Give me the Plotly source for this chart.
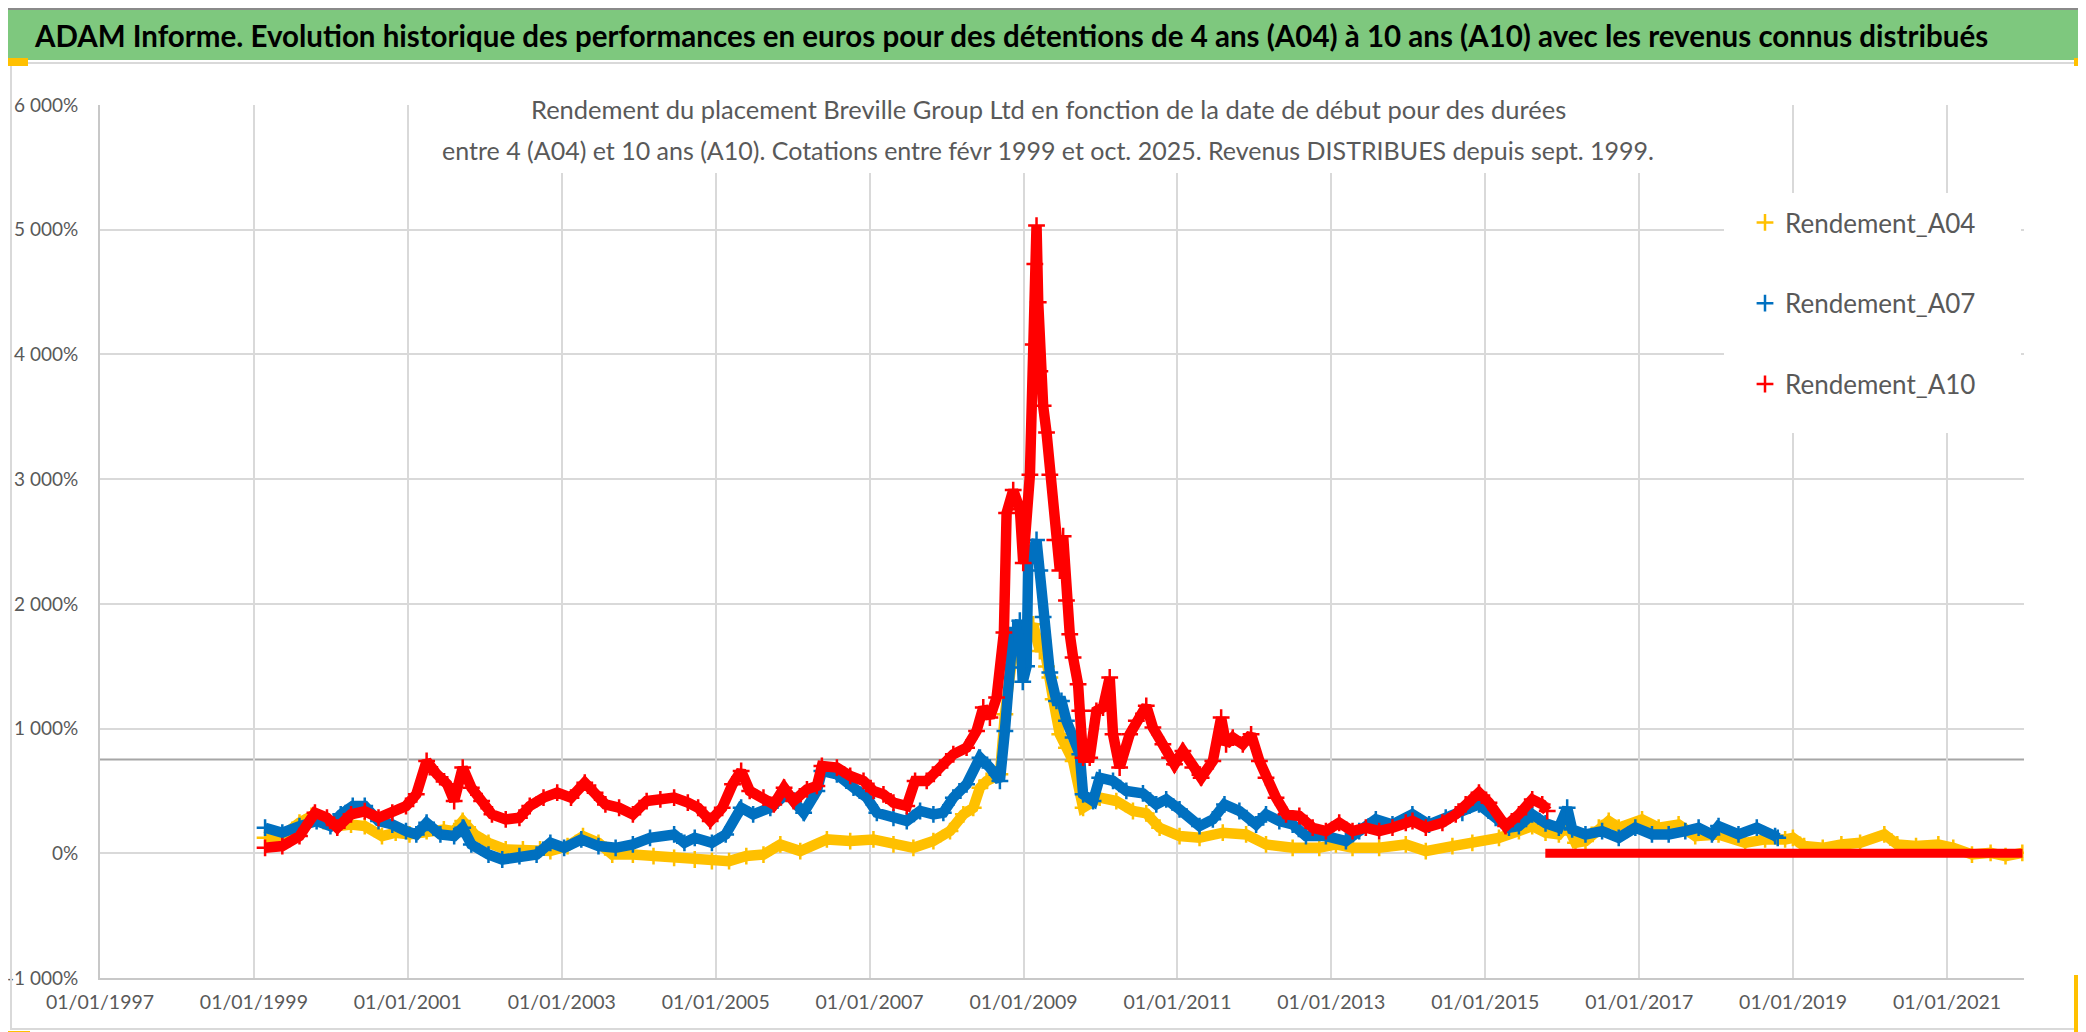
import plotly.graph_objects as go

# ---------------- DATA ----------------
annees_a04 = [1999.145, 1999.369, 1999.592, 1999.748, 1999.904, 2000.083, 2000.262, 2000.440, 2000.664, 2000.842,
              2001.021, 2001.244, 2001.468, 2001.602, 2001.713, 2001.870, 2002.048, 2002.272, 2002.495, 2002.718,
              2002.852, 2003.075, 2003.276, 2003.477, 2003.656, 2003.924, 2004.192, 2004.460, 2004.728, 2004.951,
              2005.174, 2005.398, 2005.621, 2005.840, 2006.099, 2006.445, 2006.748, 2007.050, 2007.310, 2007.569,
              2007.829, 2008.045, 2008.218, 2008.347, 2008.434, 2008.520, 2008.693, 2008.758, 2008.866, 2008.952,
              2009.126, 2009.212, 2009.255, 2009.299, 2009.342, 2009.385, 2009.471, 2009.558, 2009.644, 2009.774,
              2009.990, 2010.206, 2010.422, 2010.595, 2010.768, 2011.027, 2011.287, 2011.589, 2011.892, 2012.151,
              2012.497, 2012.843, 2013.059, 2013.275, 2013.621, 2013.967, 2014.227, 2014.573, 2014.832, 2015.178,
              2015.437, 2015.610, 2015.783, 2015.956, 2016.064, 2016.172, 2016.302, 2016.475, 2016.604, 2016.734,
              2017.037, 2017.253, 2017.512, 2017.728, 2018.031, 2018.377, 2018.636, 2018.896, 2018.997, 2019.143,
              2019.385, 2019.627, 2019.870, 2020.185, 2020.354, 2020.597, 2020.887, 2021.081, 2021.324, 2021.566,
              2021.760, 2021.978]
rendement_a04 = [124, 138, 245, 299, 259, 218, 231, 218, 138, 165,
                 151, 178, 191, 178, 259, 151, 84, 31, 31, 31,
                 18, 58, 138, 84, -10, -10, -22, -36, -50, -63,
                 -63, -22, -10, 71, 18, 111, 98, 111, 71, 44,
                 98, 178, 312, 365, 526, 580, 633, 1115, 1624, 1677,
                 1836, 1621, 1704, 1498, 1410, 1236, 954, 847, 740, 365,
                 446, 419, 339, 320, 205, 138, 124, 165, 151, 71,
                 44, 44, 71, 44, 44, 71, 18, 58, 84, 124,
                 178, 218, 165, 151, 231, 84, 98, 205, 259, 205,
                 272, 205, 231, 138, 151, 84, 111, 111, 124, 58,
                 44, 71, 84, 151, 71, 58, 71, 44, -10, 4,
                 -22, 4]

annees_a07 = [1999.145, 1999.369, 1999.592, 1999.815, 1999.994, 2000.128, 2000.284, 2000.440, 2000.619, 2000.798,
              2000.976, 2001.110, 2001.244, 2001.423, 2001.602, 2001.713, 2001.825, 2002.048, 2002.227, 2002.450,
              2002.673, 2002.852, 2003.031, 2003.254, 2003.477, 2003.700, 2003.924, 2004.147, 2004.460, 2004.594,
              2004.728, 2004.951, 2005.130, 2005.331, 2005.487, 2005.710, 2005.926, 2006.143, 2006.315, 2006.380,
              2006.575, 2006.791, 2006.964, 2007.094, 2007.310, 2007.483, 2007.656, 2007.829, 2007.958, 2008.088,
              2008.260, 2008.434, 2008.563, 2008.693, 2008.758, 2008.823, 2008.866, 2008.888, 2008.952, 2008.990,
              2009.040, 2009.061, 2009.169, 2009.212, 2009.255, 2009.342, 2009.428, 2009.493, 2009.558, 2009.644,
              2009.731, 2009.774, 2009.904, 2009.990, 2010.163, 2010.336, 2010.552, 2010.725, 2010.854, 2011.027,
              2011.287, 2011.460, 2011.611, 2011.805, 2012.022, 2012.151, 2012.324, 2012.497, 2012.670, 2012.929,
              2013.189, 2013.362, 2013.578, 2013.794, 2014.053, 2014.270, 2014.486, 2014.702, 2014.918, 2015.135,
              2015.308, 2015.437, 2015.610, 2015.783, 2015.956, 2016.064, 2016.129, 2016.302, 2016.518, 2016.734,
              2016.950, 2017.166, 2017.383, 2017.599, 2017.772, 2017.945, 2018.031, 2018.290, 2018.528, 2018.766,
              2018.800]
rendement_a07 = [205, 165, 218, 259, 218, 312, 379, 379, 259, 231,
                 178, 151, 245, 151, 138, 205, 71, -10, -50, -22,
                 -10, 84, 44, 111, 58, 44, 71, 124, 151, 84,
                 124, 84, 151, 365, 312, 365, 480, 325, 500, 660,
                 633, 526, 446, 325, 285, 259, 339, 312, 325, 446,
                 553, 767, 687, 580, 981, 1490, 1806, 1757, 1865, 1375,
                 1500, 2328, 2512, 2267, 1895, 1450, 1222, 1222, 1062, 928,
                 794, 473, 419, 606, 580, 500, 480, 392, 432, 352,
                 218, 272, 392, 339, 231, 312, 259, 231, 138, 138,
                 98, 178, 272, 231, 312, 231, 285, 325, 392, 285,
                 205, 218, 312, 240, 205, 365, 191, 151, 178, 124,
                 205, 151, 151, 178, 205, 151, 218, 151, 205, 138,
                 124]

annees_a10 = [1999.145, 1999.369, 1999.592, 1999.793, 1999.949, 2000.083, 2000.262, 2000.440, 2000.619, 2000.798,
              2000.976, 2001.110, 2001.244, 2001.378, 2001.512, 2001.602, 2001.713, 2001.825, 2001.959, 2002.093,
              2002.272, 2002.450, 2002.584, 2002.763, 2002.941, 2003.120, 2003.299, 2003.433, 2003.567, 2003.745,
              2003.924, 2004.103, 2004.281, 2004.460, 2004.638, 2004.772, 2004.929, 2005.085, 2005.219, 2005.331,
              2005.442, 2005.621, 2005.755, 2005.889, 2006.013, 2006.186, 2006.315, 2006.380, 2006.575, 2006.748,
              2006.921, 2007.050, 2007.180, 2007.310, 2007.483, 2007.591, 2007.742, 2007.915, 2008.088, 2008.260,
              2008.390, 2008.477, 2008.563, 2008.650, 2008.745, 2008.780, 2008.866, 2008.953, 2008.996, 2009.083,
              2009.126, 2009.147, 2009.169, 2009.191, 2009.212, 2009.255, 2009.299, 2009.342, 2009.407, 2009.472,
              2009.515, 2009.558, 2009.601, 2009.644, 2009.709, 2009.731, 2009.774, 2009.860, 2009.947, 2010.033,
              2010.120, 2010.163, 2010.249, 2010.379, 2010.466, 2010.595, 2010.681, 2010.811, 2010.898, 2010.962,
              2011.071, 2011.200, 2011.308, 2011.460, 2011.568, 2011.632, 2011.719, 2011.849, 2011.957, 2012.065,
              2012.151, 2012.281, 2012.411, 2012.584, 2012.757, 2012.929, 2013.102, 2013.275, 2013.448, 2013.621,
              2013.794, 2013.967, 2014.054, 2014.227, 2014.443, 2014.616, 2014.745, 2014.918, 2015.048, 2015.264,
              2015.437, 2015.610, 2015.740, 2015.805]
rendement_a10 = [44, 58, 138, 325, 285, 205, 312, 337, 285, 325,
                 379, 473, 740, 633, 553, 419, 687, 526, 419, 312,
                 272, 285, 379, 446, 486, 446, 566, 486, 392, 365,
                 312, 419, 432, 446, 406, 365, 259, 365, 553, 660,
                 500, 446, 392, 526, 419, 513, 540, 700, 687, 620,
                 580, 500, 473, 406, 379, 580, 580, 687, 794, 847,
                 981, 1169, 1088, 1249, 1771, 2728, 2912, 2759, 2328, 3035,
                 4080, 4725, 5033, 4418, 3865, 3588, 3373, 3035, 2512, 2267,
                 2543, 2026, 1757, 1570, 1356, 1142, 767, 767, 1142, 1169,
                 1410, 954, 687, 954, 1062, 1182, 1008, 874, 767, 713,
                 821, 687, 606, 740, 1088, 874, 928, 874, 954, 740,
                 606, 446, 312, 299, 205, 178, 245, 178, 205, 178,
                 205, 245, 259, 205, 245, 312, 392, 486, 406, 218,
                 312, 432, 392, 339]
# A10 values shown as 0 % after the end of the available 10-year windows
annees_a10_nul = [2015.78, 2016.25, 2016.75, 2017.25, 2017.75, 2018.25, 2018.75, 2019.25, 2019.75,
                  2020.25, 2020.75, 2021.25, 2021.75, 2021.98]
rendement_a10_nul = [0, 0, 0, 0, 0, 0, 0, 0, 0, 0, 0, 0, 0, 0]

niveau_reference = 753

noms_series = ["Rendement_A04", "Rendement_A07", "Rendement_A10"]
couleurs = ["#FFC000", "#0070C0", "#FF0000"]

y_ticks = [-1000, 0, 1000, 2000, 3000, 4000, 5000, 6000]
y_tick_labels = ["-1 000%", "0%", "1 000%", "2 000%", "3 000%", "4 000%", "5 000%", "6 000%"]
x_ticks = [1997, 1999, 2001, 2003, 2005, 2007, 2009, 2011, 2013, 2015, 2017, 2019, 2021]
x_tick_labels = ["01/01/1997", "01/01/1999", "01/01/2001", "01/01/2003", "01/01/2005", "01/01/2007",
                 "01/01/2009", "01/01/2011", "01/01/2013", "01/01/2015", "01/01/2017", "01/01/2019",
                 "01/01/2021"]

titre = ("ADAM Informe. Evolution historique des performances en euros pour des détentions "
         "de 4 ans (A04) à 10 ans (A10) avec les revenus connus distribués")
sous_titre_1 = "Rendement du placement Breville Group Ltd en fonction de la date de début pour des durées"
sous_titre_2 = ("entre 4 (A04) et 10 ans (A10). Cotations entre févr 1999 et oct. 2025. "
                "Revenus DISTRIBUES depuis sept. 1999.")

# ---------------- LAYOUT HELPERS ----------------
W, H = 2086, 1032
ML, MR, MT, MB = 92, 70, 97, 62
PW, PH = W - ML - MR, H - MT - MB
FONT = "Lato, sans-serif"
GRIS = "#595959"


def px_x(p):
    return (p - ML) / PW


def px_y(p):
    return (H - MB - p) / PH


fig = go.Figure()

series = [
    (annees_a04, rendement_a04),
    (annees_a07, rendement_a07),
    (annees_a10, rendement_a10),
]
for i, (xs, ys) in enumerate(series):
    fig.add_trace(go.Scatter(x=xs, y=ys, mode="lines", line=dict(color=couleurs[i], width=10.5),
                             showlegend=False, legendgroup=noms_series[i], hoverinfo="skip"))
    if i == 2:
        fig.add_trace(go.Scatter(x=annees_a10_nul, y=rendement_a10_nul, mode="lines",
                                 line=dict(color=couleurs[i], width=9),
                                 showlegend=False, legendgroup=noms_series[i], hoverinfo="skip"))
    fig.add_trace(go.Scatter(x=xs, y=ys, mode="markers", name=noms_series[i], legendgroup=noms_series[i],
                             marker=dict(symbol="cross-thin", size=12, color=couleurs[i],
                                         line=dict(color=couleurs[i], width=2.5))))

shapes = []
# reference line
shapes.append(dict(type="line", xref="paper", yref="y", x0=0, x1=1, y0=niveau_reference, y1=niveau_reference,
                   line=dict(color="#A6A6A6", width=2), layer="between"))
# title bar
shapes.append(dict(type="rect", xref="paper", yref="paper", x0=px_x(0), x1=px_x(W), y0=px_y(52), y1=px_y(0),
                   fillcolor="#7EC87E", line=dict(width=0), layer="above"))
shapes.append(dict(type="rect", xref="paper", yref="paper", x0=px_x(0), x1=px_x(W), y0=px_y(2), y1=px_y(0),
                   fillcolor="#8A8A8A", line=dict(width=0), layer="above"))
# white box behind the subtitle
shapes.append(dict(type="rect", xref="paper", yref="paper", x0=px_x(425), x1=px_x(1656), y0=px_y(165),
                   y1=px_y(62), fillcolor="white", line=dict(width=0), layer="above"))
# white box behind the legend
shapes.append(dict(type="rect", xref="paper", yref="paper", x0=px_x(1716), x1=px_x(2013), y0=px_y(425),
                   y1=px_y(185), fillcolor="white", line=dict(width=0), layer="above"))
# chart border
shapes.append(dict(type="rect", xref="paper", yref="paper", x0=px_x(3), x1=px_x(2080), y0=px_y(1021),
                   y1=px_y(55), line=dict(color="#D9D9D9", width=2), layer="above"))
shapes.append(dict(type="line", xref="paper", yref="paper", x0=px_x(0), x1=px_x(W), y0=px_y(1030),
                   y1=px_y(1030), line=dict(color="#9A9A9A", width=2), layer="above"))
# yellow selection handles
for (a, b, c, d) in [(0, 20, 50, 58), (2066, 2086, 50, 58), (0, 22, 1023, 1032), (2066, 2086, 967, 1032)]:
    shapes.append(dict(type="rect", xref="paper", yref="paper", x0=px_x(a), x1=px_x(b), y0=px_y(d),
                       y1=px_y(c), fillcolor="#FFC000", line=dict(width=0), layer="above"))

annotations = [
    dict(text="<b>" + titre + "</b>", xref="paper", yref="paper", x=px_x(24), y=px_y(27), xanchor="left",
         yanchor="middle", showarrow=False, font=dict(family=FONT, size=29.5, color="black")),
    dict(text=sous_titre_1, xref="paper", yref="paper", x=px_x(1040), y=px_y(101), xanchor="center",
         yanchor="middle", showarrow=False, font=dict(family=FONT, size=25.5, color=GRIS)),
    dict(text=sous_titre_2, xref="paper", yref="paper", x=px_x(1040), y=px_y(142), xanchor="center",
         yanchor="middle", showarrow=False, font=dict(family=FONT, size=25, color=GRIS)),
]

fig.update_layout(
    width=W, height=H,
    margin=dict(l=ML, r=MR, t=MT, b=MB, autoexpand=False),
    paper_bgcolor="white", plot_bgcolor="white",
    shapes=shapes, annotations=annotations,
    legend=dict(x=px_x(1737), y=px_y(191), xanchor="left", yanchor="top", bgcolor="rgba(255,255,255,0)",
                font=dict(family=FONT, size=26, color=GRIS), traceorder="grouped", tracegroupgap=44,
                itemwidth=30),
    xaxis=dict(range=[1997, 2022], tickvals=x_ticks, ticktext=x_tick_labels, showgrid=True,
               gridcolor="#D9D9D9", gridwidth=1.5, showline=True, linecolor="#C8C8C8", linewidth=2,
               zeroline=False, ticks="", ticklabelstandoff=6, ticklabeloverflow="allow",
               tickfont=dict(family=FONT, size=19.5, color=GRIS)),
    yaxis=dict(range=[-1000, 6000], tickvals=y_ticks, ticktext=y_tick_labels, showgrid=True,
               gridcolor="#D9D9D9", gridwidth=1.5, showline=True, linecolor="#C8C8C8", linewidth=2,
               zeroline=False, ticks="", ticklabelstandoff=16, ticklabeloverflow="allow",
               tickfont=dict(family=FONT, size=19, color=GRIS)),
)

fig.write_html("out.html")
